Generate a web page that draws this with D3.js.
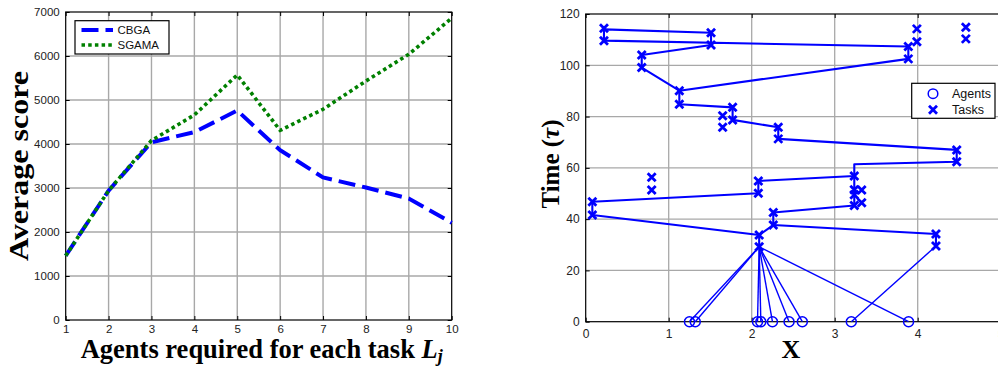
<!DOCTYPE html>
<html>
<head>
<meta charset="utf-8">
<script src="https://cdn.jsdelivr.net/npm/d3@7"></script>
<style>
  html, body { margin: 0; padding: 0; background: #fff; }
  svg { display: block; }
  .tick text { font-family: "Liberation Sans", Arial, sans-serif; fill: #222; }
</style>
</head>
<body>
<svg id="chart" width="998" height="367"></svg>
<script>
// ---- Left panel: average score vs. agents per task ----
const agentsPerTask = [1, 2, 3, 4, 5, 6, 7, 8, 9, 10];
const cbgaScore  = [1460, 2940, 4040, 4270, 4760, 3860, 3240, 3010, 2760, 2210];
const sgamaScore = [1460, 2940, 4080, 4660, 5570, 4310, 4790, 5430, 6040, 6860];
const scoreTicks = [0, 1000, 2000, 3000, 4000, 5000, 6000, 7000];

// ---- Right panel: agent start positions, task points and routes (x, τ) ----
const agentX = [1.25, 1.32, 2.07, 2.11, 2.25, 2.45, 2.61, 3.2, 3.89];
const agentFirstTask = [
  [2.09, 29.2], [2.09, 29.2], [2.09, 29.2], [2.09, 29.2], [2.09, 29.2],
  [2.09, 29.2], [2.09, 29.2], [4.22, 29.5], [2.09, 29.2]
];
const taskPoints = [
  [0.08, 41.6], [0.08, 46.8], [0.22, 109.6], [0.22, 114.4], [1.51, 112.7], [1.51, 107.9],
  [0.675, 104.0], [0.675, 99.1], [1.128, 90.1], [1.128, 84.8], [1.77, 83.6], [1.77, 78.7],
  [2.32, 75.8], [2.32, 71.3], [4.47, 67.0], [4.47, 62.4], [3.236, 56.8], [2.08, 54.9],
  [2.08, 50.1], [2.09, 33.8], [2.09, 29.2], [2.26, 37.7], [2.26, 42.6], [3.236, 45.3],
  [4.22, 34.2], [4.22, 29.5], [3.887, 102.5], [3.887, 107.3], [0.795, 56.3], [0.795, 51.4],
  [1.65, 80.3], [1.65, 75.8], [3.99, 114.2], [3.99, 109.2], [4.58, 114.8], [4.58, 110.3],
  [3.236, 51.5], [3.236, 49.5], [3.325, 51.4], [3.325, 46.4]
];
const routeMain = [
  [2.09, 29.2], [2.09, 33.8], [0.08, 41.6], [0.08, 46.8], [2.08, 50.1], [2.08, 54.9],
  [3.236, 56.8], [3.236, 61.4], [4.47, 62.4], [4.47, 67.0], [2.32, 71.3], [2.32, 75.8],
  [1.77, 78.7], [1.77, 83.6], [1.128, 84.8], [1.128, 90.1], [3.887, 102.5], [3.887, 107.3],
  [0.22, 109.6], [0.22, 114.0], [1.51, 112.7], [1.51, 107.9], [0.675, 104.0], [0.675, 99.1],
  [1.128, 90.1]
];
const routeEast = [[4.22, 29.5], [4.22, 34.2], [2.26, 37.7], [2.09, 33.8]];
const routeMid  = [[2.26, 37.7], [2.26, 42.6], [3.236, 45.3], [3.236, 56.8]];
const xTicks = [0, 1, 2, 3, 4, 5];
const timeTicks = [0, 20, 40, 60, 80, 100, 120];

const svg = d3.select("#chart");
const sans = '"Liberation Sans", Arial, sans-serif';
const serif = '"Liberation Serif", "Times New Roman", serif';
const gridColor = "#a8a8a8";

// ================= Left panel =================
const L = { left: 65.7, right: 451.7, top: 12, bottom: 320 };
const xL = d3.scaleLinear().domain([1, 10]).range([L.left, L.right]);
const yL = d3.scaleLinear().domain([0, 7000]).range([L.bottom, L.top]);
const gL = svg.append("g");

// grid
gL.append("g").selectAll("line").data(agentsPerTask.slice(1, -1)).join("line")
  .attr("x1", d => xL(d)).attr("x2", d => xL(d))
  .attr("y1", L.top).attr("y2", L.bottom)
  .attr("stroke", gridColor).attr("stroke-width", 1.4);
gL.append("g").selectAll("line").data(scoreTicks.slice(1, -1)).join("line")
  .attr("x1", L.left).attr("x2", L.right)
  .attr("y1", d => yL(d)).attr("y2", d => yL(d))
  .attr("stroke", gridColor).attr("stroke-width", 1.4);

// axes with inward ticks
const axLB = gL.append("g").attr("transform", `translate(0,${L.bottom})`)
  .call(d3.axisBottom(xL).tickValues(agentsPerTask).tickFormat(d3.format("d"))
    .tickSizeInner(-4).tickSizeOuter(0).tickPadding(5));
const axLL = gL.append("g").attr("transform", `translate(${L.left},0)`)
  .call(d3.axisLeft(yL).tickValues(scoreTicks).tickFormat(d3.format("d"))
    .tickSizeInner(-4).tickSizeOuter(0).tickPadding(6));
gL.append("g").attr("transform", `translate(0,${L.top})`)
  .call(d3.axisTop(xL).tickValues(agentsPerTask).tickFormat("").tickSizeInner(-4).tickSizeOuter(0));
gL.append("g").attr("transform", `translate(${L.right},0)`)
  .call(d3.axisRight(yL).tickValues(scoreTicks).tickFormat("").tickSizeInner(-4).tickSizeOuter(0));
gL.selectAll(".domain").remove();
gL.selectAll(".tick line").attr("stroke", "#000");
axLB.selectAll("text").style("font-size", "11.5px");
axLL.selectAll("text").style("font-size", "11.5px");
gL.append("rect").attr("x", L.left).attr("y", L.top)
  .attr("width", L.right - L.left).attr("height", L.bottom - L.top)
  .attr("fill", "none").attr("stroke", "#000").attr("stroke-width", 1.2);

// series (dotted SGAMA drawn over dashed CBGA)
const lineL = d3.line().x((d, i) => xL(agentsPerTask[i])).y(d => yL(d));
gL.append("path").datum(cbgaScore).attr("d", lineL)
  .attr("fill", "none").attr("stroke", "#0000ff").attr("stroke-width", 4)
  .attr("stroke-dasharray", "17,7");
gL.append("path").datum(sgamaScore).attr("d", lineL)
  .attr("fill", "none").attr("stroke", "#008000").attr("stroke-width", 3.6)
  .attr("stroke-dasharray", "3.5,3.2");

// legend
const legL = gL.append("g");
legL.append("rect").attr("x", 75).attr("y", 20.7).attr("width", 94).attr("height", 33.3)
  .attr("fill", "#fff").attr("stroke", "#000").attr("stroke-width", 1.2);
const legItemsL = [
  { name: "CBGA", color: "#0000ff", w: 4, dash: "17,7" },
  { name: "SGAMA", color: "#008000", w: 3.6, dash: "3.5,3.2" }
];
legItemsL.forEach((it, i) => {
  const y = 30 + i * 15;
  legL.append("line").attr("x1", 81.5).attr("x2", 113).attr("y1", y).attr("y2", y)
    .attr("stroke", it.color).attr("stroke-width", it.w).attr("stroke-dasharray", it.dash);
  legL.append("text").attr("x", 117.5).attr("y", y + 4.2).text(it.name)
    .style("font-family", sans).style("font-size", "11.5px").attr("fill", "#111");
});

// axis titles
const xTitleL = gL.append("text").attr("x", (L.left + L.right) / 2 + 3).attr("y", 357.5)
  .attr("text-anchor", "middle").style("font-family", serif).style("font-weight", "bold")
  .style("font-size", "26.5px").attr("fill", "#000");
xTitleL.append("tspan").text("Agents required for each task ");
xTitleL.append("tspan").style("font-style", "italic").text("L");
xTitleL.append("tspan").style("font-style", "italic").style("font-size", "18px")
  .attr("dy", 4).text("j");
gL.append("text").attr("transform", `translate(28,${(L.top + L.bottom) / 2}) rotate(-90)`)
  .attr("text-anchor", "middle").style("font-family", serif).style("font-weight", "bold")
  .style("font-size", "27px").attr("fill", "#000")
  .attr("textLength", 190).attr("lengthAdjust", "spacingAndGlyphs").text("Average score");

// ================= Right panel =================
const R = { left: 585.7, right: 1000.7, top: 14, bottom: 321.7 };
const xR = d3.scaleLinear().domain([0, 5]).range([R.left, R.right]);
const yR = d3.scaleLinear().domain([0, 120]).range([R.bottom, R.top]);
const gR = svg.append("g");

gR.append("g").selectAll("line").data(xTicks.slice(1)).join("line")
  .attr("x1", d => xR(d)).attr("x2", d => xR(d))
  .attr("y1", R.top).attr("y2", R.bottom)
  .attr("stroke", gridColor).attr("stroke-width", 1.3);
gR.append("g").selectAll("line").data(timeTicks.slice(1, -1)).join("line")
  .attr("x1", R.left).attr("x2", R.right)
  .attr("y1", d => yR(d)).attr("y2", d => yR(d))
  .attr("stroke", gridColor).attr("stroke-width", 1.3);

const axRB = gR.append("g").attr("transform", `translate(0,${R.bottom})`)
  .call(d3.axisBottom(xR).tickValues(xTicks).tickFormat(d3.format("d"))
    .tickSizeInner(-4).tickSizeOuter(0).tickPadding(8));
const axRL = gR.append("g").attr("transform", `translate(${R.left},0)`)
  .call(d3.axisLeft(yR).tickValues(timeTicks).tickFormat(d3.format("d"))
    .tickSizeInner(-4).tickSizeOuter(0).tickPadding(6));
gR.append("g").attr("transform", `translate(0,${R.top})`)
  .call(d3.axisTop(xR).tickValues(xTicks).tickFormat("").tickSizeInner(-4).tickSizeOuter(0));
gR.selectAll(".domain").remove();
gR.selectAll(".tick line").attr("stroke", "#000");
axRB.selectAll("text").style("font-size", "12px");
axRL.selectAll("text").style("font-size", "12px");
gR.append("rect").attr("x", R.left).attr("y", R.top)
  .attr("width", R.right - R.left).attr("height", R.bottom - R.top)
  .attr("fill", "none").attr("stroke", "#000").attr("stroke-width", 1.2);

const blue = "#0000ff";
const lineR = d3.line().x(d => xR(d[0])).y(d => yR(d[1]));

// agent-to-first-task links
gR.append("g").selectAll("path").data(agentX).join("path")
  .attr("d", (d, i) => lineR([[d, 0], agentFirstTask[i]]))
  .attr("fill", "none").attr("stroke", blue).attr("stroke-width", 1.4);

// task routes
[routeMain, routeEast, routeMid].forEach(r => {
  gR.append("path").datum(r).attr("d", lineR)
    .attr("fill", "none").attr("stroke", blue).attr("stroke-width", 2.1)
    .attr("stroke-linejoin", "round");
});

// task markers
const crossPath = s => `M${-s},${-s}L${s},${s}M${-s},${s}L${s},${-s}`;
gR.append("g").selectAll("path").data(taskPoints).join("path")
  .attr("transform", d => `translate(${xR(d[0])},${yR(d[1])})`)
  .attr("d", crossPath(4))
  .attr("stroke", blue).attr("stroke-width", 2.8).attr("fill", "none");

// agent markers
gR.append("g").selectAll("circle").data(agentX).join("circle")
  .attr("cx", d => xR(d)).attr("cy", yR(0)).attr("r", 5)
  .attr("fill", "none").attr("stroke", blue).attr("stroke-width", 1.5);

// legend
const legR = gR.append("g");
legR.append("rect").attr("x", 911.7).attr("y", 83.3).attr("width", 83.3).attr("height", 35)
  .attr("fill", "#fff").attr("stroke", "#000").attr("stroke-width", 1.2);
legR.append("circle").attr("cx", 933).attr("cy", 93.7).attr("r", 4.8)
  .attr("fill", "none").attr("stroke", blue).attr("stroke-width", 1.5);
legR.append("path").attr("transform", "translate(933,109.7)").attr("d", crossPath(4))
  .attr("stroke", blue).attr("stroke-width", 2.8);
legR.append("text").attr("x", 952).attr("y", 98).text("Agents")
  .style("font-family", sans).style("font-size", "12.5px").attr("fill", "#111");
legR.append("text").attr("x", 952).attr("y", 114).text("Tasks")
  .style("font-family", sans).style("font-size", "12.5px").attr("fill", "#111");

// axis titles
gR.append("text").attr("x", 791).attr("y", 358).attr("text-anchor", "middle")
  .style("font-family", serif).style("font-weight", "bold").style("font-size", "26px")
  .attr("fill", "#000").text("X");
const yTitleR = gR.append("text")
  .attr("transform", `translate(559,164) rotate(-90)`)
  .attr("text-anchor", "middle").style("font-family", serif).style("font-weight", "bold")
  .style("font-size", "25px").attr("fill", "#000");
yTitleR.append("tspan").text("Time (");
yTitleR.append("tspan").style("font-style", "italic").text("τ");
yTitleR.append("tspan").text(")");
</script>
</body>
</html>
